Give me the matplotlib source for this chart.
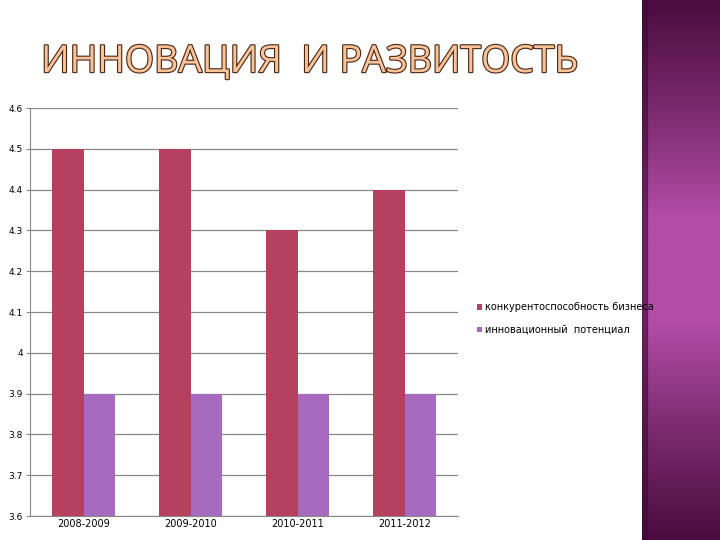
import numpy as np
import matplotlib
matplotlib.use("Agg")
import matplotlib.pyplot as plt
import matplotlib.patheffects as pe
from matplotlib.colors import LinearSegmentedColormap

years = ["2008-2009", "2009-2010", "2010-2011", "2011-2012"]
competitiveness = [4.5, 4.5, 4.3, 4.4]
innovation = [3.9, 3.9, 3.9, 3.9]
y_ticks = [3.6, 3.7, 3.8, 3.9, 4.0, 4.1, 4.2, 4.3, 4.4, 4.5, 4.6]

fig = plt.figure(figsize=(7.2, 5.4), dpi=100)

# decorative purple band on the right
band = fig.add_axes([642 / 720, 0, 78 / 720, 1])
cmap = LinearSegmentedColormap.from_list(
    "band", ["#4a0c3e", "#7a2a6e", "#b34ca6", "#b34ca6", "#7a2a6e", "#4a0c3e"])
grad = np.linspace(0, 1, 256).reshape(-1, 1)
band.imshow(grad, aspect="auto", cmap=cmap, extent=[0, 1, 0, 1])
band.axvspan(0, 0.07, color="#3e0a34", alpha=0.6)
band.axis("off")

fig.text(0.43, 0.885, "ИННОВАЦИЯ  И РАЗВИТОСТЬ", ha="center", va="center",
         fontsize=27, family="Open Sans", color="#f6c39a",
         path_effects=[pe.withStroke(linewidth=1.6, foreground="#4a2410")])

ax = fig.add_axes([30 / 720, 24 / 540, 428 / 720, 408 / 540])
x = np.arange(len(years))
w = 0.29
ax.bar(x - w / 2, competitiveness, w, color="#b5405f",
       label="конкурентоспособность бизнеса", zorder=3)
ax.bar(x + w / 2, innovation, w, color="#a66bbf",
       label="инновационный  потенциал", zorder=3)

ax.set_ylim(3.6, 4.6)
ax.set_xlim(-0.5, len(years) - 0.5)
ax.set_yticks(y_ticks)
ax.set_yticklabels(["%g" % v for v in y_ticks], fontsize=6.5)
ax.set_xticks(x)
ax.set_xticklabels(years, fontsize=7)
ax.yaxis.grid(True, color="#888888", linewidth=0.9, zorder=0)
for s in ["top", "right"]:
    ax.spines[s].set_visible(False)
ax.spines["left"].set_color("#888888")
ax.spines["bottom"].set_color("#888888")
ax.tick_params(axis="y", length=3, color="#888888", pad=2)
ax.tick_params(axis="x", length=0, pad=2)

fig.legend(loc="center left", bbox_to_anchor=(468 / 720, 0.41), frameon=False,
           fontsize=7, handlelength=0.5, handleheight=0.5, handletextpad=0.3,
           labelspacing=1.3)

fig.savefig("out.png", dpi=100)
